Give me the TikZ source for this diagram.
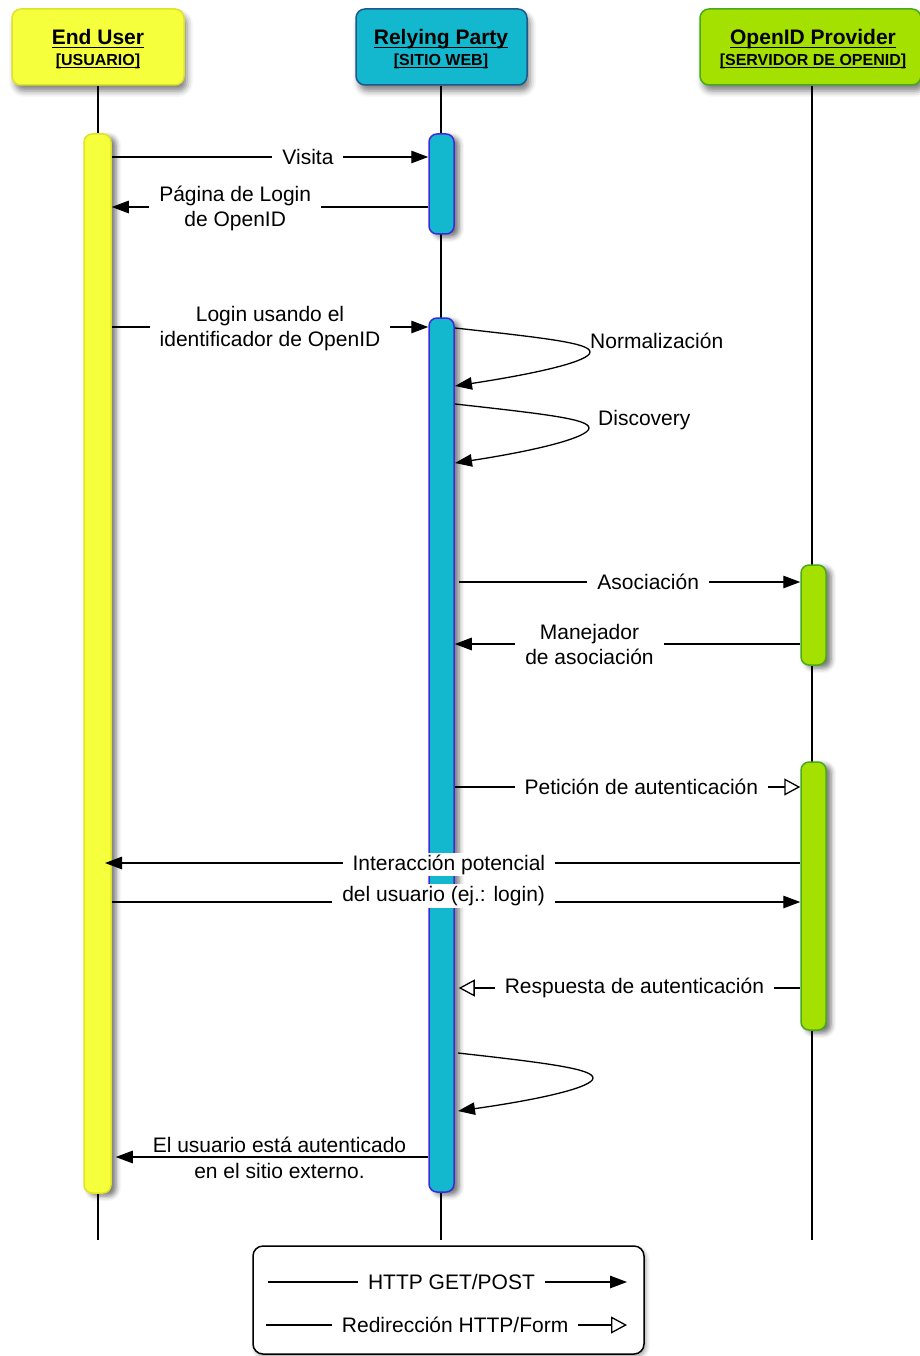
\documentclass[tikz,border=0pt]{standalone}
\usepackage{fontspec}
\setmainfont{Liberation Sans}
\usetikzlibrary{arrows.meta,shadows.blur}

\definecolor{usrfill}{RGB}{245,255,60}
\definecolor{usrdraw}{RGB}{222,226,40}
\definecolor{rpfill}{RGB}{20,184,206}
\definecolor{rpdraw}{RGB}{28,88,140}
\definecolor{rpbar}{RGB}{62,40,222}
\definecolor{opfill}{RGB}{164,224,0}
\definecolor{opdraw}{RGB}{72,168,30}

\newcommand\msgfont{\fontsize{21}{25}\selectfont}
\newcommand\headfont{\fontsize{21}{24}\selectfont\bfseries}
\newcommand\subfont{\fontsize{16}{18}\selectfont\bfseries}
% underline with a fixed depth and thickness
\newsavebox\hdulbox
\newcommand\hdul[2][3.5pt]{\sbox\hdulbox{#2}\rlap{\rule[-#1]{\wd\hdulbox}{1.6pt}}\usebox\hdulbox}

\begin{document}
\begin{tikzpicture}[x=1pt,y=-1pt,
  headbox/.style={rounded corners=9pt, line width=1.5pt, minimum height=76pt,
    blur shadow={shadow xshift=3pt,shadow yshift=-6pt,shadow blur radius=6pt,shadow opacity=50}},
  headtxt/.style={anchor=base, inner sep=0pt, font=\headfont},
  subtxt/.style={anchor=base, inner sep=0pt, font=\subfont},
  bar/.style={rounded corners=8pt, line width=1.5pt, minimum width=26pt, inner sep=0pt,
    blur shadow={shadow xshift=5pt,shadow yshift=-3pt,shadow blur radius=5pt,shadow opacity=55}},
  life/.style={line width=1.4pt},
  msg/.style={line width=1.3pt, -{Triangle[length=17pt,width=12.5pt]}},
  redir/.style={line width=1.3pt, -{Triangle[open,length=16pt,width=17pt,fill=white]}},
  lbl/.style={fill=white, inner xsep=10pt, inner ysep=2pt, align=center, font=\msgfont},
  plain/.style={inner sep=0pt, align=center, font=\msgfont},
  legendbox/.style={draw, rounded corners=10pt, line width=1.5pt, fill=white,
    blur shadow={shadow xshift=2pt,shadow yshift=-3pt,shadow blur radius=4pt,shadow opacity=35}}
]
\useasboundingbox (0,0) rectangle (920,1356);

% participant headers
\node[headbox, fill=usrfill, draw=usrdraw, minimum width=172pt] (hu) at (98,47) {};
\node[headbox, fill=rpfill, draw=rpdraw, minimum width=171pt] (hr) at (441.5,47) {};
\node[headbox, fill=opfill, draw=opdraw, minimum width=221pt] (ho) at (810.5,47) {};
\node[headtxt] (hut) at (98,45) {\hdul{End User}};
\node[subtxt]  (hus) at (98,66) {\hdul[2.5pt]{[USUARIO]}};
\node[headtxt] (hrt) at (441,45) {\hdul{Relying Party}};
\node[subtxt]  (hrs) at (441,66) {\hdul[2.5pt]{[SITIO WEB]}};
\node[headtxt] (hot) at (813,45) {\hdul{OpenID Provider}};
\node[subtxt]  (hos) at (813,66) {\hdul[2.5pt]{[SERVIDOR DE OPENID]}};

% lifelines
\coordinate (ue) at (98,1240);
\coordinate (re) at (441,1240);
\coordinate (oe) at (812,1240);
\draw[life] (hu.south) -- (ue);
\draw[life] (hr.south -| re) -- (re);
\draw[life] (ho.south -| oe) -- (oe);

% activation bars
\node[bar, fill=usrfill, draw=usrdraw, minimum width=27pt, minimum height=1059pt] (ub) at (97.5,663.5) {};
\node[bar, fill=rpfill, draw=rpbar, minimum width=25pt, minimum height=100pt] (rp1) at (441.5,184) {};
\node[bar, fill=rpfill, draw=rpbar, minimum width=25pt, minimum height=874pt] (rp2) at (441.5,755) {};
\node[bar, fill=opfill, draw=opdraw, minimum width=25pt, minimum height=100pt] (op1) at (813.5,615) {};
\node[bar, fill=opfill, draw=opdraw, minimum width=25pt, minimum height=268pt] (op2) at (813.5,896) {};

% message levels
\coordinate (yVis) at (0,157);
\coordinate (yPag) at (0,207);
\coordinate (yLog) at (0,327);
\coordinate (yAso) at (0,582);
\coordinate (yMan) at (0,644);
\coordinate (yPet) at (0,787);
\coordinate (yInt) at (0,863);
\coordinate (yDel) at (0,902);
\coordinate (yRes) at (0,988);
\coordinate (yAut) at (0,1157);

% messages
\draw[msg] (ub.east |- yVis) -- node[lbl,pos=0.62] (tVis) {Visita} (rp1.west |- yVis);
\draw[msg] (rp1.west |- yPag) -- node[lbl,pos=0.61,yshift=-1pt] (tPag) {Página de Login\\de OpenID} (ub.east |- yPag);
\draw[msg] (ub.east |- yLog) -- node[lbl,pos=0.5,yshift=-2pt] (tLog) {Login usando el\\identificador de OpenID} (rp2.west |- yLog);

% self calls on the relying party
\coordinate (n0) at (455,328); \coordinate (n1) at (590,352); \coordinate (n2) at (455,386);
\draw[msg] (n0) .. controls (545,338) and (590,343) .. (n1) .. controls (590,361) and (540,373) .. (n2);
\node[plain, anchor=base west] (tNorm) at (590,348) {Normalización};
\coordinate (d0) at (455,404); \coordinate (d1) at (589,428); \coordinate (d2) at (455,463);
\draw[msg] (d0) .. controls (545,414) and (589,419) .. (d1) .. controls (589,437) and (540,450) .. (d2);
\node[plain, anchor=base west] (tDisc) at (598,425) {Discovery};

\draw[msg, shorten <=4pt] (rp2.east |- yAso) -- node[lbl,pos=0.56] (tAso) {Asociación} (op1.west |- yAso);
\draw[msg] (op1.west |- yMan) -- node[lbl,pos=0.61] (tMan) {Manejador\\de asociación} (rp2.east |- yMan);
\draw[redir] (rp2.east |- yPet) -- node[lbl,pos=0.54] (tPet) {Petición de autenticación} (op2.west |- yPet);
\draw[msg, shorten >=7.5pt] (op2.west |- yInt) -- node[lbl,pos=0.5,yshift=-1.5pt] (tInt) {Interacción potencial} (ub.center |- yInt);
\draw[msg] (ub.east |- yDel) -- node[lbl,pos=0.482,yshift=6pt] (tDel) {del usuario (ej.: login)} (op2.west |- yDel);
\draw[redir, shorten >=4pt] (op2.west |- yRes) -- node[lbl,pos=0.48] (tRes) {Respuesta de autenticación} (rp2.east |- yRes);

\coordinate (f0) at (458,1053); \coordinate (f1) at (593,1078); \coordinate (f2) at (458,1111);
\draw[msg] (f0) .. controls (548,1063) and (593,1069) .. (f1) .. controls (593,1087) and (543,1099) .. (f2);

\draw[msg, shorten >=4pt] (rp2.west |- yAut) -- node[plain,pos=0.47,yshift=-1pt] (tAut)
  {El usuario está autenticado\\[1pt]en el sitio externo.} (ub.east |- yAut);

% legend
\node[legendbox, minimum width=391pt, minimum height=108pt] (lg) at (448.5,1300) {};
\coordinate (g1a) at (268,1282); \coordinate (g1b) at (627,1282);
\draw[msg] (g1a) -- node[lbl,pos=0.511] (g1t) {HTTP GET/POST} (g1b);
\coordinate (g2a) at (266,1325); \coordinate (g2b) at (627,1325);
\draw[redir] (g2a) -- node[lbl,pos=0.524] (g2t) {Redirección HTTP/Form} (g2b);
\end{tikzpicture}
\end{document}
